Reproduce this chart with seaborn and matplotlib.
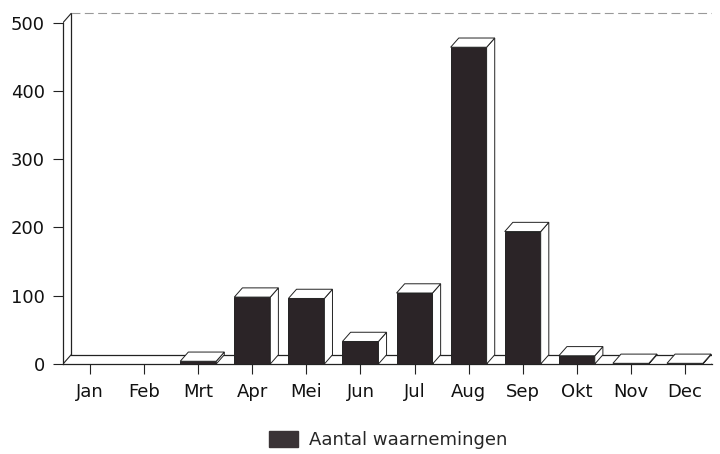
import numpy as np
import matplotlib.pyplot as plt
import seaborn as sns
from matplotlib.patches import Polygon, Patch

months = ['Jan', 'Feb', 'Mrt', 'Apr', 'Mei', 'Jun', 'Jul', 'Aug', 'Sep', 'Okt', 'Nov', 'Dec']
counts = [0, 0, 4, 98, 96, 33, 104, 464, 194, 12, 1, 1]
legend_label = 'Aantal waarnemingen'
yticks = [0, 100, 200, 300, 400, 500]

sns.set_style('white')
plt.rcParams['font.family'] = ['DejaVu Sans']

bar_color = '#2b2427'
edge = '#222222'
bar_w = 0.665
# depth of the 3D effect in data units
dx, dy = 0.15, 13.5

fig = plt.figure(figsize=(7.2, 4.54), dpi=100)
ax = fig.add_axes([63 / 720, 90 / 454, 649 / 720, 355 / 454])

sns.barplot(x=months, y=counts, color=bar_color, width=bar_w, ax=ax,
            saturation=1, edgecolor=edge, linewidth=0.7, zorder=3)

ax.set_xlim(-0.5, 11.5)
ax.set_ylim(0, 520)

# back wall and floor
x0, x1 = -0.5, 11.5
ax.plot([x0 + dx, x0 + dx], [dy, 500 + dy], color=edge, lw=0.9, zorder=1)
ax.plot([x0 + dx, x1 + dx], [500 + dy, 500 + dy], color='#999999', lw=0.8, ls=(0, (8, 4)), zorder=1)
ax.plot([x0, x0 + dx], [500, 500 + dy], color=edge, lw=0.8, zorder=1)
ax.plot([x0, x0 + dx], [0, dy], color=edge, lw=0.8, zorder=1)
ax.plot([x0 + dx, x1 + dx], [dy, dy], color=edge, lw=0.9, zorder=1)
ax.plot([x1, x1 + dx], [0, dy], color='#666666', lw=0.8, zorder=1)

# top and side faces for each bar
for p, v in zip(ax.patches, counts):
    if v <= 0:
        continue
    xl = p.get_x()
    xr = xl + p.get_width()
    top = Polygon([(xl, v), (xr, v), (xr + dx, v + dy), (xl + dx, v + dy)],
                  closed=True, facecolor='white', edgecolor=edge, lw=0.7, zorder=3)
    side = Polygon([(xr, 0), (xr, v), (xr + dx, v + dy), (xr + dx, dy)],
                   closed=True, facecolor='white', edgecolor=edge, lw=0.7, zorder=3)
    ax.add_patch(side)
    ax.add_patch(top)

sns.despine(ax=ax, top=True, right=True)
ax.spines['left'].set_bounds(0, 500)
ax.spines['left'].set_color(edge)
ax.spines['left'].set_linewidth(0.9)
ax.spines['bottom'].set_color(edge)
ax.spines['bottom'].set_linewidth(0.9)

ax.set_yticks(yticks)
ax.tick_params(axis='both', which='both', direction='out', length=7, width=0.8,
               color=edge, labelsize=13, labelcolor='#111111', pad=6, left=True, bottom=True)
ax.tick_params(axis='x', pad=7)
ax.set_xlabel('')
ax.set_ylabel('')

fig.legend(handles=[Patch(facecolor='#3a3336', edgecolor='#3a3336', label=legend_label)],
           loc='center', bbox_to_anchor=(388 / 720, 1 - 440 / 454), frameon=False,
           fontsize=13, handlelength=1.6, handleheight=1.0, handletextpad=0.6)

fig.savefig('out.png', dpi=100, facecolor='white')
